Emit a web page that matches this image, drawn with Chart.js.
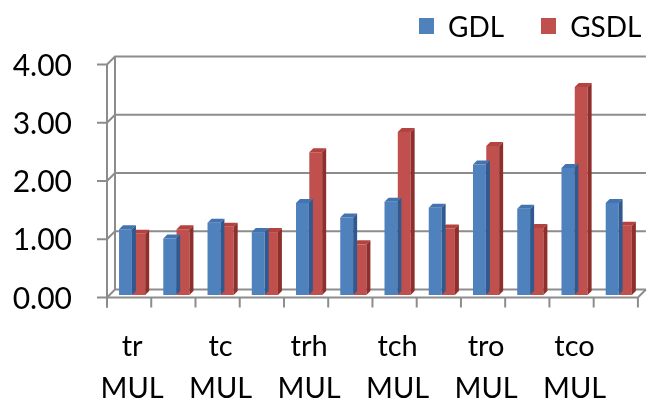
<!DOCTYPE html>
<html>
<head>
<meta charset="utf-8">
<script src="https://cdn.jsdelivr.net/npm/chart.js@4.4.1/dist/chart.umd.min.js"></script>
<style>
  html, body { margin: 0; padding: 0; background: #fff; }
  #wrap { position: relative; width: 650px; height: 401px; }
  #legend { position: absolute; left: 419px; top: 12px; display: flex; font-family: Lato, sans-serif; font-size: 28px; line-height: 28px; color: #000; }
  .item { display: flex; align-items: center; margin-right: 37px; }
  .box { width: 15px; height: 16px; margin-right: 14px; }
</style>
</head>
<body>
<div id="wrap">
  <canvas id="c" width="650" height="401"></canvas>
  <div id="legend"></div>
</div>
<script>
// ---- data ----
const categories = [['tr','MUL'], '', ['tc','MUL'], '', ['trh','MUL'], '', ['tch','MUL'], '', ['tro','MUL'], '', ['tco','MUL'], ''];
const seriesNames = ['GDL', 'GSDL'];
const gdlValues  = [1.13, 0.97, 1.24, 1.08, 1.58, 1.33, 1.60, 1.50, 2.24, 1.48, 2.18, 1.58];
const gsdlValues = [1.05, 1.13, 1.17, 1.08, 2.45, 0.87, 2.80, 1.14, 2.56, 1.15, 3.57, 1.19];
const yTickValues = [0, 1, 2, 3, 4];

// ---- styles ----
const faceColors = ['#4F81BD', '#C0504D'];
const topColors  = ['#4474B0', '#B4433F'];
const sideColors = ['#30598F', '#8E2F2C'];
const gridColor = '#8c8c8c';
const XFONT = { family: 'Lato', size: 29, lineHeight: 1.45 };
const YFONT = { family: 'Lato', size: 30 };

// 3D geometry relative to the bar plane
const FX = -3, FY = 2.5;   // front plane offset
const BX = 5,  BY = -5.5;  // back wall offset
const D = 4;               // bar depth

const threeD = {
  id: 'threeD',
  beforeDatasetsDraw(chart) {
    const { ctx, chartArea: { left, right }, scales: { x, y } } = chart;
    ctx.save();
    ctx.strokeStyle = gridColor;
    ctx.lineWidth = 2;
    const fl = left + FX, fr = right + FX, bl = left + BX, br = right + BX;
    const pTop = y.getPixelForValue(y.max), p0 = y.getPixelForValue(0);
    ctx.beginPath();
    ctx.moveTo(bl, pTop + BY); ctx.lineTo(bl, p0 + BY);
    ctx.stroke();
    y.ticks.forEach(t => {
      const p = y.getPixelForValue(t.value);
      ctx.beginPath();
      ctx.moveTo(fl - 10, p + FY);
      ctx.lineTo(fl, p + FY);
      ctx.lineTo(bl, p + BY);
      ctx.lineTo(br, p + BY);
      ctx.stroke();
    });
    ctx.beginPath();
    ctx.moveTo(fl, p0 + FY); ctx.lineTo(fr, p0 + FY); ctx.lineTo(br, p0 + BY);
    ctx.stroke();
    ctx.beginPath();
    ctx.moveTo(fl, pTop + FY); ctx.lineTo(fl, p0 + FY + 10);
    ctx.stroke();
    const n = chart.data.labels.length;
    for (let i = 0; i <= n; i++) {
      const xb = x.getPixelForValue(i - 0.5) + FX;
      ctx.beginPath();
      ctx.moveTo(xb, p0 + FY); ctx.lineTo(xb, p0 + FY + 10);
      ctx.stroke();
    }
    ctx.restore();
  },
  afterDatasetDraw(chart, args) {
    const { ctx } = chart;
    const i = args.index;
    ctx.save();
    args.meta.data.forEach(el => {
      const { x, y, base, width } = el.getProps(['x', 'y', 'base', 'width'], true);
      const l = x - width / 2, r = x + width / 2;
      ctx.fillStyle = topColors[i];
      ctx.beginPath();
      ctx.moveTo(l, y); ctx.lineTo(r, y); ctx.lineTo(r + D, y - D); ctx.lineTo(l + D, y - D);
      ctx.closePath(); ctx.fill();
      ctx.fillStyle = sideColors[i];
      ctx.beginPath();
      ctx.moveTo(r, y); ctx.lineTo(r + D, y - D); ctx.lineTo(r + D, base - D); ctx.lineTo(r, base);
      ctx.closePath(); ctx.fill();
    });
    ctx.restore();
  }
};

const htmlLegend = {
  id: 'htmlLegend',
  afterUpdate(chart) {
    const box = document.getElementById('legend');
    box.innerHTML = '';
    chart.data.datasets.forEach(ds => {
      const item = document.createElement('div');
      item.className = 'item';
      const sw = document.createElement('span');
      sw.className = 'box';
      sw.style.background = ds.backgroundColor;
      const tx = document.createElement('span');
      tx.textContent = ds.label;
      item.appendChild(sw); item.appendChild(tx);
      box.appendChild(item);
    });
  }
};

Chart.defaults.font.family = 'Lato';
Chart.defaults.color = '#000';

new Chart(document.getElementById('c'), {
  type: 'bar',
  data: {
    labels: categories,
    datasets: [
      { label: seriesNames[0], data: gdlValues,  backgroundColor: faceColors[0], borderWidth: 0 },
      { label: seriesNames[1], data: gsdlValues, backgroundColor: faceColors[1], borderWidth: 0 }
    ]
  },
  options: {
    responsive: false,
    animation: false,
    devicePixelRatio: 1,
    layout: { padding: { top: 62, right: 5, bottom: 0, left: 0 } },
    datasets: { bar: { categoryPercentage: 0.6, barPercentage: 0.97 } },
    plugins: { legend: { display: false }, tooltip: { enabled: false } },
    scales: {
      x: {
        grid: { display: false, drawTicks: false },
        border: { display: false },
        ticks: { font: XFONT, color: '#000', padding: 31, maxRotation: 0, autoSkip: false },
        afterFit(s) { s.height = 106; }
      },
      y: {
        min: 0, max: 4,
        afterBuildTicks(s) { s.ticks = yTickValues.map(v => ({ value: v })); },
        grid: { display: false, drawTicks: false },
        border: { display: false },
        ticks: { stepSize: 1, font: YFONT, color: '#000', padding: 38, labelOffset: 4,
                 callback: v => Number(v).toFixed(2) },
        afterFit(s) { s.width = 110; }
      }
    }
  },
  plugins: [threeD, htmlLegend]
});
</script>
</body>
</html>
